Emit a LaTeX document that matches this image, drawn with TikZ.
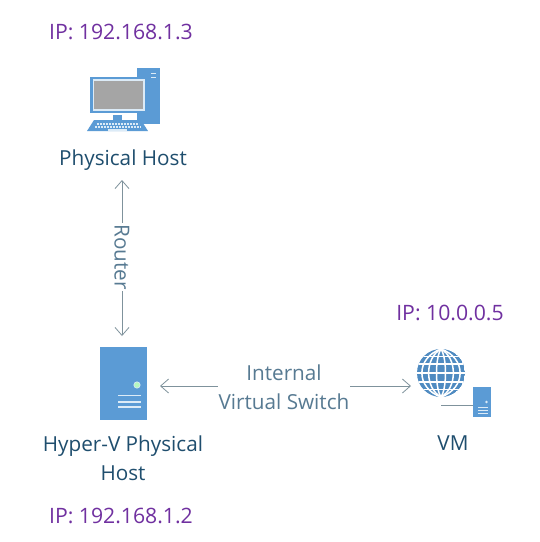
\documentclass[tikz,border=0pt]{standalone}
\usepackage{fontspec}
\setmainfont{Open Sans}
\usetikzlibrary{arrows.meta}
\definecolor{iconblue}{HTML}{5B9BD5}
\definecolor{labelblue}{HTML}{1F4E6E}
\definecolor{ipviolet}{HTML}{7030A0}
\definecolor{arrowgray}{HTML}{7F929C}
\definecolor{screengray}{HTML}{A5A5A5}
\definecolor{paleline}{HTML}{DCEBF7}
\tikzset{
  x=1pt,y=-1pt,
  lbl/.style={font=\fontsize{20.7}{29}\selectfont,text=labelblue,align=center,inner sep=0pt},
  ip/.style={font=\fontsize{21.2}{25}\selectfont,text=ipviolet,inner sep=0pt},
  conn/.style={draw=arrowgray,line width=0.8pt,{Straight Barb[length=8pt,width=14pt]}-{Straight Barb[length=8pt,width=14pt]}},
  wirelabel/.style={lbl,fill=white,text=labelblue!75!white},
  ico/.style={fill=iconblue,draw=none},
  pale/.style={draw=paleline,line width=1.2pt}
}
\begin{document}
\begin{tikzpicture}
\useasboundingbox (0,0) rectangle (540,542);
\fill[white] (0,0) rectangle (540,542);
% labels
\node[ip] (ip1) at (121,32) {IP: 192.168.1.3};
\node[lbl] (phys) at (123,160) {Physical Host};
\node[ip] (ip2) at (450,313) {IP: 10.0.0.5};
\node[lbl] (hyper) at (123,458) {Hyper-V Physical\\Host};
\node[lbl] (vm) at (453,443) {VM};
\node[ip] (ip3) at (121,516) {IP: 192.168.1.2};
% physical host icon
\fill[ico] (137,68) rectangle (160,124);
\draw[paleline,line width=1pt] (151,73) -- (156,73) (151,77) -- (156,77);
\fill[ico] (90,77) rectangle (147,113);
\draw[paleline,line width=1.2pt,fill=screengray] (93.5,80) rectangle (144,110);
\fill[ico] (113,115) rectangle (122,120);
\fill[ico] (137,115) rectangle (147,120);
\fill[ico] (94,120) -- (141,120) -- (148,131) -- (87,131) -- cycle;
\draw[paleline,line width=1.2pt,dash pattern=on 2pt off 1pt] (97,124) -- (139,124);
\draw[paleline,line width=1.2pt,dash pattern=on 2pt off 1pt] (95,127) -- (141,127);
\draw[paleline,line width=1.2pt] (108,130) -- (127,130);
% hyper-v server
\node[ico,minimum width=47pt,minimum height=73pt,inner sep=0pt] (srv) at (123.5,383.5) {};
\fill[paleline!60!green!60!white,draw=paleline,line width=.6pt] (137,385) circle (3.2);
\draw[pale] (118,395.5) -- (141,395.5) (118,402) -- (141,402) (118,407) -- (141,407);
% globe
\begin{scope}
\clip (441,373) circle (24);
\fill[iconblue!80!labelblue] (441,373) circle (24);
\foreach \yy in {356.5,364,373,382,389.5} \draw[white,line width=1.5pt] (417,\yy) -- (465,\yy);
\foreach \xx in {6,16.5,25.5} {
  \draw[white,line width=1.5pt] (441,349) .. controls (441-\xx,358) and (441-\xx,388) .. (441,397);
  \draw[white,line width=1.5pt] (441,349) .. controls (441+\xx,358) and (441+\xx,388) .. (441,397);
}
\end{scope}
% vm server
\draw[arrowgray,line width=.8pt] (441,405) -- (473,405);
\node[ico,minimum width=18pt,minimum height=30pt,inner sep=0pt] (vmsrv) at (482,402) {};
\fill[paleline] (486.5,402) circle (1.4);
\draw[paleline,line width=.9pt] (478,407) -- (488,407) (478,410) -- (488,410) (478,413) -- (488,413);
% connectors
\coordinate (a1) at (122,180);
\coordinate (a2) at (122,336);
\coordinate (b1) at (160,386);
\coordinate (b2) at (411,386);
\draw[conn] (a1) -- (a2);
\draw[conn] (b1) -- (b2);
\node[wirelabel,rotate=-90,inner sep=1pt] (router) at (122,257) {Router};
\node[wirelabel,inner sep=1pt] (sw) at (284,387) {Internal\\Virtual Switch};
\end{tikzpicture}
\end{document}
